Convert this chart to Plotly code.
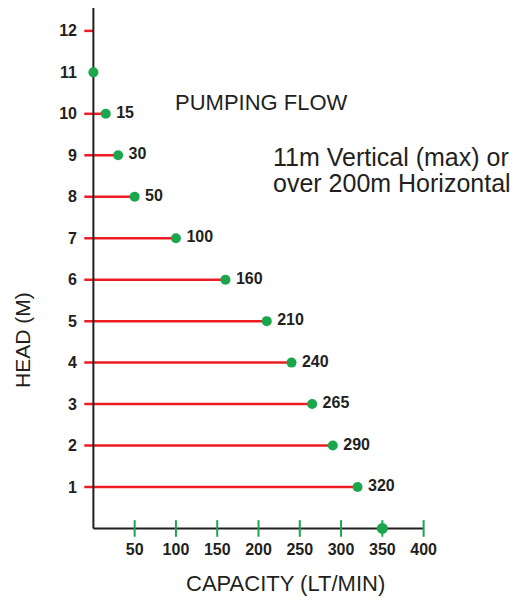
import plotly.graph_objects as go

# Data
heads = [12, 11, 10, 9, 8, 7, 6, 5, 4, 3, 2, 1]
capacity = [None, 0, 15, 30, 50, 100, 160, 210, 240, 265, 290, 320]
capacity_labels = ["", "", "15", "30", "50", "100", "160", "210", "240", "265", "290", "320"]
max_flow = 350
x_ticks = [50, 100, 150, 200, 250, 300, 350, 400]
y_ticks = [1, 2, 3, 4, 5, 6, 7, 8, 9, 10, 11, 12]

RED = "#ed1c24"
GREEN = "#1aa64b"
INK = "#231f20"
LABEL_FONT = dict(family="Liberation Sans, Arial", size=16, color=INK, weight="bold")
TEXT_FAMILY = "Liberation Sans, Arial"

fig = go.Figure()

# Red horizontal lines (from left of axis to point)
lx, ly = [], []
for h, c in zip(heads, capacity):
    if c == 0:
        continue
    end = c if c is not None else 0
    lx += [-11, end, None]
    ly += [h, h, None]
fig.add_trace(go.Scatter(x=lx, y=ly, mode="lines", line=dict(color=RED, width=2.5),
                         hoverinfo="skip", showlegend=False))

# Axis lines
fig.add_trace(go.Scatter(x=[0, 0, None, 0, 400], y=[12.55, 0, None, 0, 0], mode="lines",
                         line=dict(color=INK, width=2), hoverinfo="skip", showlegend=False))

# Green x ticks
tx, ty = [], []
for v in x_ticks:
    tx += [v, v, None]
    ty += [-0.2, 0.2, None]
fig.add_trace(go.Scatter(x=tx, y=ty, mode="lines", line=dict(color=GREEN, width=2),
                         hoverinfo="skip", showlegend=False))

# Green points with labels
px = [c for c in capacity if c is not None]
py = [h for h, c in zip(heads, capacity) if c is not None]
pt = [l for l, c in zip(capacity_labels, capacity) if c is not None]
fig.add_trace(go.Scatter(x=px, y=py, mode="markers+text",
                         text=["\u2009" + s if s else s for s in pt],
                         textposition="middle right", textfont=LABEL_FONT,
                         marker=dict(color=GREEN, size=10), showlegend=False))
fig.add_trace(go.Scatter(x=[max_flow], y=[0], mode="markers",
                         marker=dict(color=GREEN, size=11), showlegend=False))

W, H = 515, 610
l, r, t, b = 81, 79, 6, 72
pw, ph = W - l - r, H - t - b


def ann(text, xpix, ypix, size, xanchor="center", angle=0):
    return dict(text=text, xref="paper", yref="paper",
                x=(xpix - l) / pw, y=1 - (ypix - t) / ph,
                xanchor=xanchor, yanchor="middle", showarrow=False, textangle=angle,
                font=dict(family=TEXT_FAMILY, size=size, color=INK))


fig.update_layout(
    width=W, height=H,
    margin=dict(l=l, r=r, t=t, b=b),
    paper_bgcolor="white", plot_bgcolor="white",
    xaxis=dict(range=[-15, 415], showgrid=False, zeroline=False, showline=False,
               tickvals=x_ticks, ticktext=[str(v) for v in x_ticks], tickfont=LABEL_FONT,
               ticks="", ticklabelstandoff=0),
    yaxis=dict(range=[-0.23, 12.6], showgrid=False, zeroline=False, showline=False,
               tickvals=y_ticks, ticktext=[str(v) for v in y_ticks], tickfont=LABEL_FONT,
               ticks="", ticklabelstandoff=3),
    annotations=[
        ann("PUMPING FLOW", 261, 103, 22),
        ann("11m Vertical (max) or", 271, 157, 25, xanchor="left"),
        ann("over 200m Horizontal", 271, 183, 25, xanchor="left"),
        ann("HEAD (M)", 22, 340, 21, angle=-90),
        ann("CAPACITY (LT/MIN)", 285, 583, 22),
    ],
)

fig.write_html("out.html", config={"displayModeBar": False},
               post_script="document.body.style.margin='0';")
